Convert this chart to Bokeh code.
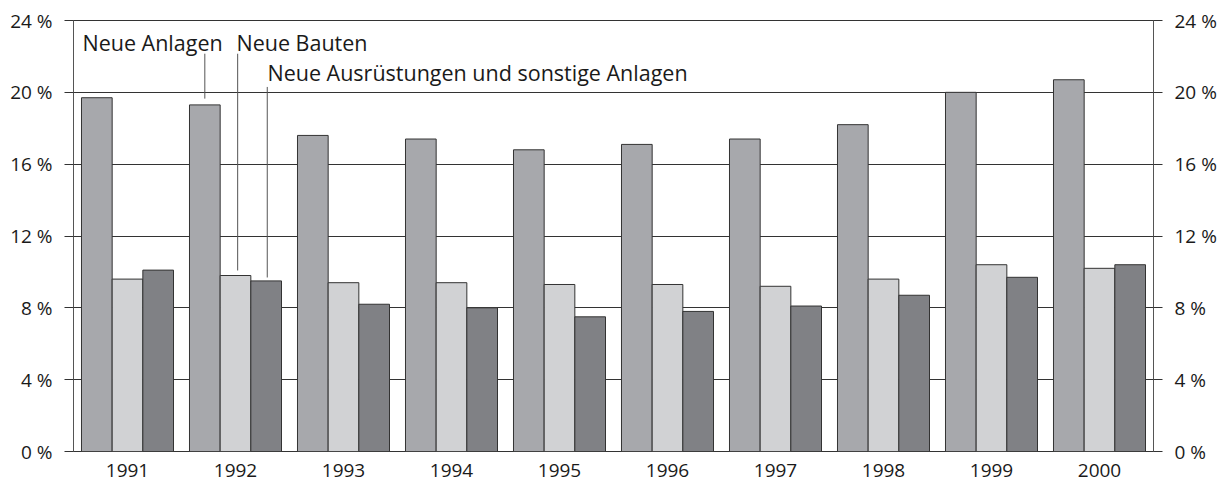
from bokeh.plotting import figure
from bokeh.models import ColumnDataSource, FactorRange, Range1d, LinearAxis, FixedTicker, Label
from bokeh.transform import dodge
from bokeh.embed import file_html
from bokeh.resources import INLINE

years = ["1991", "1992", "1993", "1994", "1995", "1996", "1997", "1998", "1999", "2000"]
neue_anlagen = [19.7, 19.3, 17.6, 17.4, 16.8, 17.1, 17.4, 18.2, 20.0, 20.7]
neue_bauten = [9.6, 9.8, 9.4, 9.4, 9.3, 9.3, 9.2, 9.6, 10.4, 10.2]
neue_ausruestungen = [10.1, 9.5, 8.2, 8.0, 7.5, 7.8, 8.1, 8.7, 9.7, 10.4]

y_ticks = [0, 4, 8, 12, 16, 20, 24]
y_tick_labels = ["0 %", "4 %", "8 %", "12 %", "16 %", "20 %", "24 %"]

series_names = ["Neue Anlagen", "Neue Bauten", "Neue Ausrüstungen und sonstige Anlagen"]
colors = ["#a7a8ac", "#d1d2d4", "#808185"]

FONT = "Open Sans"
FS = "19px"
FS_ANN = "21.5px"
DARK = "#333333"

src = ColumnDataSource(dict(years=years, a=neue_anlagen, b=neue_bauten, c=neue_ausruestungen))

p = figure(width=1226, height=484, x_range=FactorRange(factors=years, range_padding=0),
           y_range=Range1d(0, 24), output_backend="svg", toolbar_location=None,
           min_border_left=73, min_border_right=73, min_border_top=20, min_border_bottom=33)

bw = 0.284
for col, off, colr in zip(["a", "b", "c"], [-bw, 0.0, bw], colors):
    p.vbar(x=dodge("years", off, range=p.x_range), top=col, width=bw, source=src,
           fill_color=colr, line_color=DARK, line_width=1)

# axes
p.yaxis.visible = False
p.xaxis.axis_line_color = None
p.xaxis.major_tick_line_color = None
p.xaxis.minor_tick_line_color = None
p.xaxis.major_label_text_font = FONT
p.xaxis.major_label_text_font_size = FS
p.xaxis.major_label_text_color = "#1a1a1a"
p.xaxis.major_label_standoff = 6

overrides = {t: l for t, l in zip(y_ticks, y_tick_labels)}
for side in ["left", "right"]:
    ax = LinearAxis(ticker=FixedTicker(ticks=y_ticks), major_label_overrides=overrides)
    ax.axis_line_color = "#555555"
    ax.major_tick_line_color = DARK
    ax.major_tick_out = 9
    ax.major_tick_in = 0
    ax.minor_tick_line_color = None
    ax.major_label_text_font = FONT
    ax.major_label_text_font_size = FS
    ax.major_label_text_color = "#1a1a1a"
    ax.major_label_standoff = 12
    p.add_layout(ax, side)

p.xgrid.grid_line_color = None
p.ygrid.ticker = FixedTicker(ticks=y_ticks)
p.ygrid.grid_line_color = DARK
p.ygrid.grid_line_alpha = 1.0
p.ygrid.level = "underlay"
p.outline_line_color = DARK

# leader lines and labels
line_x = [1.5 - bw, 1.5 + 0.02, 1.5 + bw + 0.01]
line_y0 = [22.15, 22.15, 20.3]
line_y1 = [19.65, 10.08, 9.69]
p.segment(x0=line_x, y0=line_y0, x1=line_x, y1=line_y1, line_color="#555555", line_width=1)

lbl_x = [0.083, 1.509, 1.796]
lbl_y = [22.75, 22.75, 21.08]
for name, lx, ly in zip(series_names, lbl_x, lbl_y):
    p.add_layout(Label(x=lx, y=ly, text=name, text_font=FONT, text_font_size=FS_ANN,
                       text_color="#1a1a1a", text_baseline="alphabetic", text_align="left"))

p.background_fill_color = "white"
p.border_fill_color = "white"

open("out.html", "w").write(file_html(p, INLINE))
